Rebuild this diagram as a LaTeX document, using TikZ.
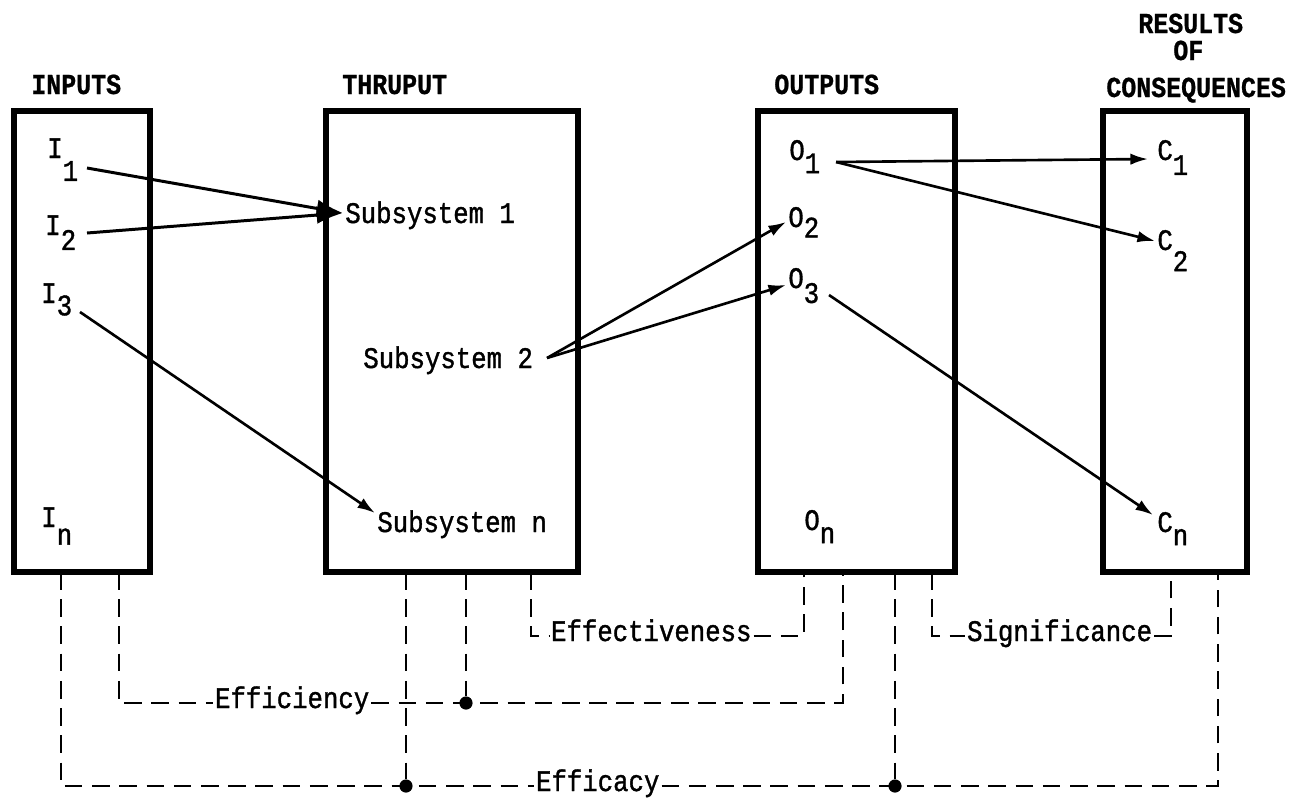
\documentclass[tikz,border=0pt]{standalone}
\usepackage{fontspec}
\newfontfamily\twfont[FakeStretch=0.86,FakeBold=1.2]{Liberation Mono}
\newfontfamily\hdfont[FakeStretch=0.86,FakeBold=0.8]{Liberation Mono}
\usetikzlibrary{arrows.meta}
\newcommand{\subl}[2][9pt]{\raisebox{-#1}{#2}}
\begin{document}
\begin{tikzpicture}[x=0.02cm,y=-0.02cm,
  box/.style={draw, line width=3pt, inner sep=0pt},
  lbl/.style={font=\twfont\fontsize{17}{20}\selectfont, inner sep=0pt, anchor=base west},
  low/.style={font=\twfont\fontsize{17}{20}\selectfont, inner ysep=0pt, inner xsep=1pt, anchor=west, text height=8pt, text depth=2.3pt},
  hdr/.style={font=\hdfont\bfseries\fontsize{16.5}{18}\selectfont, inner sep=0pt, anchor=base west},
  arr/.style={-{Latex[length=10pt,width=6.5pt]}, line width=1.5pt},
  big/.style={-{Latex[length=15pt,width=10pt]}, line width=1.7pt},
  dsh/.style={line width=1.3pt, dash pattern=on 10pt off 5.5pt},
  dot/.style={circle, fill, inner sep=0pt, minimum size=7.5pt}]
\useasboundingbox (0,0) rectangle (1300,799);

% boxes
\node[box, minimum width=2.72cm, minimum height=9.22cm] (inbox) at (82,341.5) {};
\node[box, minimum width=5.04cm, minimum height=9.22cm] (thbox) at (452,341.5) {};
\node[box, minimum width=3.94cm, minimum height=9.22cm] (outbox) at (856.5,341.5) {};
\node[box, minimum width=2.88cm, minimum height=9.22cm] (resbox) at (1175,341.5) {};

% headers
\node[hdr] (hin) at (31,94) {INPUTS};
\node[hdr] (hth) at (342,94) {THRUPUT};
\node[hdr] (hout) at (774,94) {OUTPUTS};
\node[hdr] (hr1) at (1138,33) {RESULTS};
\node[hdr] (hr2) at (1173,60) {OF};
\node[hdr] (hr3) at (1106,97) {CONSEQUENCES};

% labels
\node[lbl] (i1) at (47,158) {I\subl[13pt]{1}};
\node[lbl] (i2) at (45,235) {I\subl[8.5pt]{2}};
\node[lbl] (i3) at (41,303) {I\subl[7pt]{3}};
\node[lbl] (in) at (41,527) {I\subl[10pt]{n}};
\node[lbl] (o1) at (789,160) {O\subl[7.5pt]{1}};
\node[lbl] (o2) at (788,227) {O\subl[6pt]{2}};
\node[lbl] (o3) at (788,288) {O\subl[8.5pt]{3}};
\node[lbl] (on) at (804,530) {O\subl[7.5pt]{n}};
\node[lbl] (c1) at (1157,160) {C\subl[8.5pt]{1}};
\node[lbl] (c2) at (1157,250) {C\subl[12pt]{2}};
\node[lbl] (cn) at (1157,532) {C\subl[7.5pt]{n}};
\node[lbl] (s1) at (345,223) {Subsystem 1};
\node[lbl] (s2) at (363,368) {Subsystem 2};
\node[lbl] (sn) at (377,532) {Subsystem n};

% arrow end points
\coordinate (i1a) at (87,168);
\coordinate (i2a) at (87,233);
\coordinate (i3a) at (80,312);
\coordinate (s1in) at (343,213);
\coordinate (snin) at (375,513);
\coordinate (s2a) at (547,358);
\coordinate (o2in) at (786,222);
\coordinate (o3in) at (786,285);
\coordinate (o1a) at (836,162);
\coordinate (o3a) at (829,295);
\coordinate (c1in) at (1148,159);
\coordinate (c2in) at (1155,241);
\coordinate (cnin) at (1153,515);

\draw[big] (i1a) -- (s1in);
\draw[big] (i2a) -- (s1in);
\draw[arr] (i3a) -- (snin);
\draw[arr] (s2a) -- (o2in);
\draw[arr] (s2a) -- (o3in);
\draw[arr] (o1a) -- (c1in);
\draw[arr] (o1a) -- (c2in);
\draw[arr] (o3a) -- (cnin);

% bottom attachment points
\coordinate (a1) at (61,572);
\coordinate (a2) at (119,572);
\coordinate (t1) at (406,572);
\coordinate (t2) at (466,572);
\coordinate (t3) at (531,572);
\coordinate (p1) at (804,572);
\coordinate (p2) at (843,572);
\coordinate (p3) at (895,572);
\coordinate (p4) at (932,572);
\coordinate (r1) at (1171,572);
\coordinate (r2) at (1218,572);

% lower labels
\node[low] (efv) at (549,636) {Effectiveness};
\node[low] (sig) at (965,636) {Significance};
\node[low] (eff) at (213,703) {Efficiency};
\node[low] (efc) at (534,786) {Efficacy};

\node[dot] (d1) at (466,703) {};
\node[dot] (d2) at (406,786) {};
\node[dot] (d3) at (895,786) {};

\draw[dsh] (t3) |- (efv.west);
\draw[dsh] (efv.east) -| (p1);
\draw[dsh] (p4) |- (sig.west);
\draw[dsh] (sig.east) -| (r1);
\draw[dsh] (a2) |- (eff.west);
\draw[dsh] (eff.east) -| (p2);
\draw[dsh] (t2) -- (d1);
\draw[dsh] (a1) |- (efc.west);
\draw[dsh] (efc.east) -| (r2);
\draw[dsh] (t1) -- (d2);
\draw[dsh] (p3) -- (d3);
\end{tikzpicture}
\end{document}
